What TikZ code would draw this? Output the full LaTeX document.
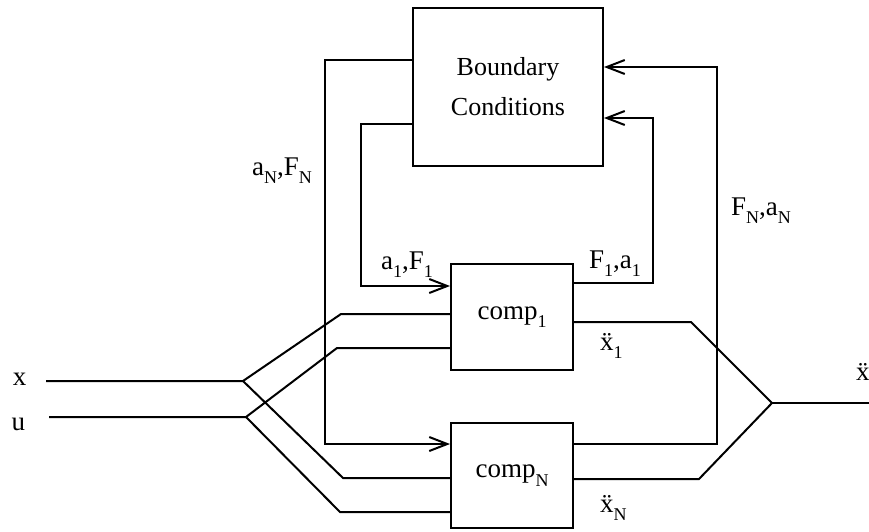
\documentclass[tikz,border=0pt]{standalone}
\usepackage{fontspec}
\setmainfont{Liberation Serif}
\usetikzlibrary{arrows.meta}
\newcommand{\lsb}[1]{\raisebox{-0.32em}{\fontsize{18}{20}\selectfont #1}}
\tikzset{
  blk/.style={draw, line width=2pt, minimum width=#1, inner sep=0pt},
  wire/.style={line width=2pt},
  arr/.style={wire, -{Straight Barb[length=18pt,width=14pt,line width=2pt]}},
  lbl/.style={inner sep=0pt, anchor=base west, font=\fontsize{27}{30}\selectfont},
}
\begin{document}
\begin{tikzpicture}[x=1pt,y=-1pt]
\useasboundingbox[fill=white] (0,0) rectangle (869,531);
% blocks
\node[blk=190pt, minimum height=158pt, align=center,
      font=\fontsize{26}{40}\selectfont] (bc) at (508,87) {Boundary\\Conditions};
\node[blk=122pt, minimum height=106pt, font=\fontsize{27}{30}\selectfont] (c1) at (512,317) {comp\lsb{1}};
\node[blk=122pt, minimum height=105pt, font=\fontsize{27}{30}\selectfont] (cN) at (512,475.5) {comp\lsb{N}};
% junctions and free ends
\coordinate (xin) at (46,381);
\coordinate (xj) at (243,381);
\coordinate (uin) at (49,417);
\coordinate (uj) at (246,417);
\coordinate (oj) at (772,403);
\coordinate (xout) at (869,403);
% feedback connectors
\draw[arr] ([yshift=27pt]bc.west) -- ++(-87,0) |- ([yshift=31.5pt]cN.west);
\draw[arr] ([yshift=-37pt]bc.west) -- ++(-51,0) |- ([yshift=31pt]c1.west);
\draw[arr] ([yshift=34pt]c1.east) -- ++(79,0) |- ([yshift=-31pt]bc.east);
\draw[arr] ([yshift=31.5pt]cN.east) -- ++(143,0) |- ([yshift=20pt]bc.east);
% inputs
\draw[wire] (xin) -- (xj) -- ++(98,-67) -- ([yshift=3pt]c1.west);
\draw[wire] (xj) -- ++(100,97) -- ([yshift=-2.5pt]cN.west);
\draw[wire] (uin) -- (uj) -- ++(91,-69) -- ([yshift=-31pt]c1.west);
\draw[wire] (uj) -- ++(94,95) -- ([yshift=-36.5pt]cN.west);
% outputs
\draw[wire] ([yshift=-5pt]c1.east) -- ++(117,0) -- (oj);
\draw[wire] ([yshift=-3.5pt]cN.east) -- ++(125,0) -- (oj);
\draw[wire] (oj) -- (xout);
% labels
\node[lbl, anchor=base] (lx) at (19.5,385) {x};
\node[lbl, anchor=base] (lu) at (18.5,430) {u};
\node[lbl] (laN) at (252,175) {a\lsb{N},F\lsb{N}};
\node[lbl] (lFN) at (731,215) {F\lsb{N},a\lsb{N}};
\node[lbl] (la1) at (381,269) {a\lsb{1},F\lsb{1}};
\node[lbl] (lF1) at (589,268) {F\lsb{1},a\lsb{1}};
\node[lbl] (lx1) at (600,350) {ẍ\lsb{1}};
\node[lbl] (lxN) at (600,512) {ẍ\lsb{N}};
\node[lbl] (lxo) at (856,380) {ẍ};
\end{tikzpicture}
\end{document}
